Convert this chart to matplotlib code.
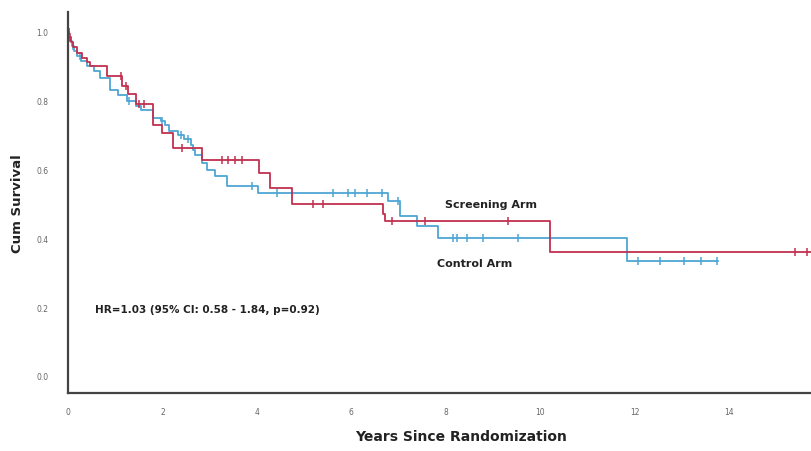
import matplotlib.pyplot as plt
import numpy as np

# Kaplan-Meier steps (time in years, survival after the step)
screen_t = [0, 0.03, 0.06, 0.10, 0.20, 0.30, 0.40, 0.47, 0.83, 1.14, 1.27, 1.45,
            1.80, 1.99, 2.22, 2.84, 4.05, 4.28, 4.75, 6.67, 6.72, 10.21, 15.74]
screen_s = [1.0, 0.985, 0.97, 0.955, 0.94, 0.925, 0.912, 0.90, 0.872, 0.843, 0.82, 0.79,
            0.729, 0.706, 0.662, 0.627, 0.589, 0.545, 0.501, 0.47, 0.449, 0.359, 0.359]
screen_cens = [0.02, 0.05, 1.12, 1.22, 1.50, 1.60, 2.42, 3.26, 3.39, 3.54, 3.69,
               5.19, 5.40, 6.86, 7.56, 9.32, 15.40, 15.66]

control_t = [0, 0.03, 0.08, 0.12, 0.20, 0.27, 0.40, 0.55, 0.68, 0.90, 1.05, 1.25, 1.45,
             1.55, 1.80, 1.97, 2.05, 2.15, 2.32, 2.45, 2.60, 2.65, 2.70, 2.84, 2.94,
             3.11, 3.37, 4.03, 6.78, 7.03, 7.39, 7.84, 11.84, 13.77]
control_s = [1.0, 0.975, 0.96, 0.945, 0.93, 0.915, 0.90, 0.885, 0.866, 0.83, 0.818, 0.80, 0.785,
             0.773, 0.749, 0.74, 0.729, 0.711, 0.70, 0.69, 0.67, 0.656, 0.641, 0.618, 0.598,
             0.58, 0.551, 0.531, 0.507, 0.466, 0.437, 0.40, 0.335, 0.335]
control_cens = [0.10, 0.25, 1.30, 2.00, 2.40, 2.55, 3.90, 4.42, 5.61, 5.93, 6.08, 6.33,
                6.65, 6.99, 8.16, 8.24, 8.45, 8.79, 9.53, 12.08, 12.54, 13.05, 13.41, 13.75]

x_ticks = [0, 2, 4, 6, 8, 10, 12, 14]
y_ticks = [0.0, 0.2, 0.4, 0.6, 0.8, 1.0]

RED = '#c2304f'
BLUE = '#4ea6d3'


def survival_at(times, surv, t):
    """Value of the step function at time t."""
    idx = np.searchsorted(times, t, side='right') - 1
    return np.asarray(surv)[idx]


fig = plt.figure(figsize=(8.11, 4.52), dpi=100)
ax = fig.add_axes([68 / 811, 58 / 452, 743 / 811, 381 / 452])

# control first so the screening arm sits on top
for t, s, cens, col in [(control_t, control_s, control_cens, BLUE),
                        (screen_t, screen_s, screen_cens, RED)]:
    ax.step(t, s, where='post', color=col, linewidth=1.3)
    ax.plot(cens, survival_at(t, s, cens), linestyle='none', marker='|',
            markersize=6, markeredgewidth=1.1, color=col)

ax.set_xlim(0, 15.74)
ax.set_ylim(-0.05, 1.058)
ax.set_xticks(x_ticks)
ax.set_xticklabels([str(v) for v in x_ticks])
ax.set_yticks(y_ticks)
ax.set_yticklabels([f'{v:.1f}' for v in y_ticks])
ax.tick_params(length=0, labelsize=5.5, labelcolor='#666666', pad=14)
ax.tick_params(axis='x', pad=10)

for side in ['top', 'right']:
    ax.spines[side].set_visible(False)
for side in ['left', 'bottom']:
    ax.spines[side].set_color('#444444')
    ax.spines[side].set_linewidth(1.6)

ax.text(8.96, 0.50, 'Screening Arm', fontsize=8, fontweight='bold',
        color='#222222', ha='center', va='center')
ax.text(8.62, 0.327, 'Control Arm', fontsize=8, fontweight='bold',
        color='#222222', ha='center', va='center')
ax.text(0.57, 0.195, 'HR=1.03 (95% CI: 0.58 - 1.84, p=0.92)', fontsize=7.5,
        fontweight='bold', color='#222222', ha='left', va='center')

fig.text(18 / 811, 1 - 204 / 452, 'Cum Survival', rotation=90, fontsize=9.5,
         fontweight='bold', color='#222222', ha='center', va='center')
fig.text(461 / 811, 1 - 437 / 452, 'Years Since Randomization', fontsize=10,
         fontweight='bold', color='#222222', ha='center', va='center')

fig.savefig('out.png', dpi=100)
